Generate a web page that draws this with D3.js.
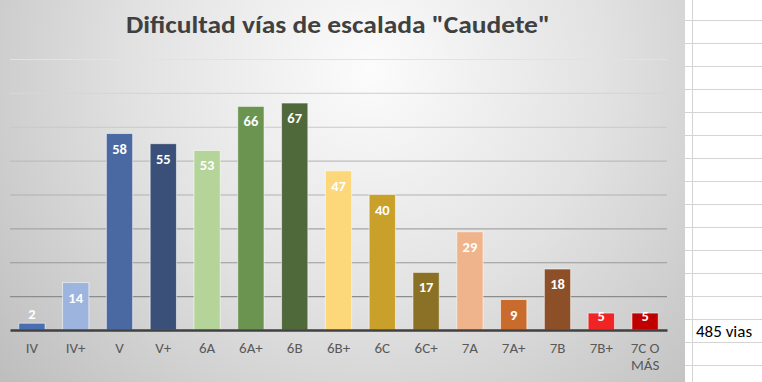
<!DOCTYPE html>
<html>
<head>
<meta charset="utf-8">
<script src="https://cdn.jsdelivr.net/npm/d3@7"></script>
<style>
  body { margin: 0; background: #fff; }
  svg { display: block; font-family: Carlito, Lato, "Open Sans", sans-serif; }
</style>
</head>
<body>
<svg width="762" height="382"></svg>
<script>
  const grades = ["IV", "IV+", "V", "V+", "6A", "6A+", "6B", "6B+", "6C", "6C+", "7A", "7A+", "7B", "7B+", "7C O MÁS"];
  const routes = [2, 14, 58, 55, 53, 66, 67, 47, 40, 17, 29, 9, 18, 5, 5];
  const barColors = ["#4a6eb0", "#9db4de", "#4a69a3", "#3a5078", "#b4d49a", "#6a9450", "#50693a", "#fdd87a", "#c9a02a", "#8a7125", "#f0b48c", "#c86b2c", "#8c4f28", "#f02424", "#c00000"];
  const yTicks = [10, 20, 30, 40, 50, 60, 70, 80];
  const title = 'Dificultad vías de escalada "Caudete"';
  const totalNote = "485 vias";

  const svg = d3.select("svg");
  const width = +svg.attr("width");
  const height = +svg.attr("height");
  const chartW = 685;

  // spreadsheet cells behind the chart
  const cells = svg.append("g");
  cells.append("rect").attr("x", chartW).attr("y", 0).attr("width", width - chartW).attr("height", height).attr("fill", "#fff");
  d3.range(20, height, 23).forEach((y) => {
    cells.append("line").attr("x1", chartW).attr("x2", width).attr("y1", y + 0.5).attr("y2", y + 0.5)
      .attr("stroke", "#d4d4d4");
  });
  cells.append("line").attr("x1", 692.5).attr("x2", 692.5).attr("y1", 0).attr("y2", height).attr("stroke", "#d4d4d4");
  cells.append("text").attr("x", 696).attr("y", 337).attr("font-size", 17).attr("fill", "#000")
    .style("font-family", "Carlito, Lato, sans-serif").text(totalNote);

  // chart area background
  const defs = svg.append("defs");
  const grad = defs.append("radialGradient").attr("id", "bg")
    .attr("gradientUnits", "userSpaceOnUse")
    .attr("cx", 370).attr("cy", 70).attr("r", 520);
  grad.append("stop").attr("offset", "0%").attr("stop-color", "#fcfcfc");
  grad.append("stop").attr("offset", "45%").attr("stop-color", "#e2e2e2");
  grad.append("stop").attr("offset", "100%").attr("stop-color", "#b8b8b8");
  svg.append("rect").attr("width", chartW).attr("height", height).attr("fill", "url(#bg)");

  const margin = { top: 59, left: 10, right: chartW - 667, bottom: height - 330 };

  const xScale = d3.scaleBand()
    .domain(grades)
    .range([margin.left, chartW - margin.right])
    .paddingInner(0.4)
    .paddingOuter(0.2);

  const yScale = d3.scaleLinear()
    .domain([0, 80])
    .range([height - margin.bottom, margin.top]);

  const gridShade = d3.scaleLinear().domain([80, 10]).range(["#e2e2e2", "#8c8c8c"]);

  const yAxisG = svg.append("g")
    .attr("transform", `translate(${margin.left},0)`)
    .call(d3.axisLeft(yScale).tickValues(yTicks).tickSize(-(chartW - margin.right - margin.left)).tickFormat(""));
  yAxisG.select(".domain").remove();
  yAxisG.selectAll(".tick line").attr("stroke", (d) => gridShade(d)).attr("stroke-width", 1.2);

  svg.append("g")
    .selectAll("rect")
    .data(routes)
    .join("rect")
    .attr("x", (d, i) => xScale(grades[i]))
    .attr("y", (d) => yScale(d))
    .attr("width", xScale.bandwidth())
    .attr("height", (d) => yScale(0) - yScale(d))
    .attr("fill", (d, i) => barColors[i])
    .attr("stroke", "rgba(255,255,255,0.55)")
    .attr("stroke-width", 1);

  // bar value labels
  svg.append("g")
    .selectAll("text")
    .data(routes)
    .join("text")
    .attr("x", (d, i) => xScale(grades[i]) + xScale.bandwidth() / 2)
    .attr("y", (d) => {
      const top = yScale(d);
      const base = yScale(0);
      const mid = base - top < 12 ? top - 9 : Math.min(top + 15, base - 14);
      return mid + 5;
    })
    .attr("text-anchor", "middle")
    .attr("font-size", 14.5)
    .attr("font-weight", "bold")
    .attr("fill", "#fff")
    .text((d) => d);

  // x axis
  const xAxisG = svg.append("g")
    .attr("transform", `translate(0,${yScale(0)})`)
    .call(d3.axisBottom(xScale).tickSize(0).tickPadding(18));
  xAxisG.select(".domain").attr("stroke", "#404040").attr("stroke-width", 2.5);
  xAxisG.selectAll(".tick text").remove();
  xAxisG.selectAll(".tick").each(function (d) {
    const words = d === "7C O MÁS" ? ["7C O", "MÁS"] : [d];
    const t = d3.select(this).append("text")
      .attr("fill", "#595959")
      .attr("font-size", 15)
      .attr("text-anchor", "middle")
      .style("font-family", "Carlito, Lato, sans-serif");
    words.forEach((w, k) => t.append("tspan").attr("x", 0).attr("y", 23 + k * 17).text(w));
  });

  svg.append("text")
    .attr("x", 338)
    .attr("y", 33)
    .attr("text-anchor", "middle")
    .attr("font-size", 25)
    .attr("font-weight", "bold")
    .attr("fill", "#404040")
    .attr("textLength", 424)
    .attr("lengthAdjust", "spacingAndGlyphs")
    .text(title);
</script>
</body>
</html>
